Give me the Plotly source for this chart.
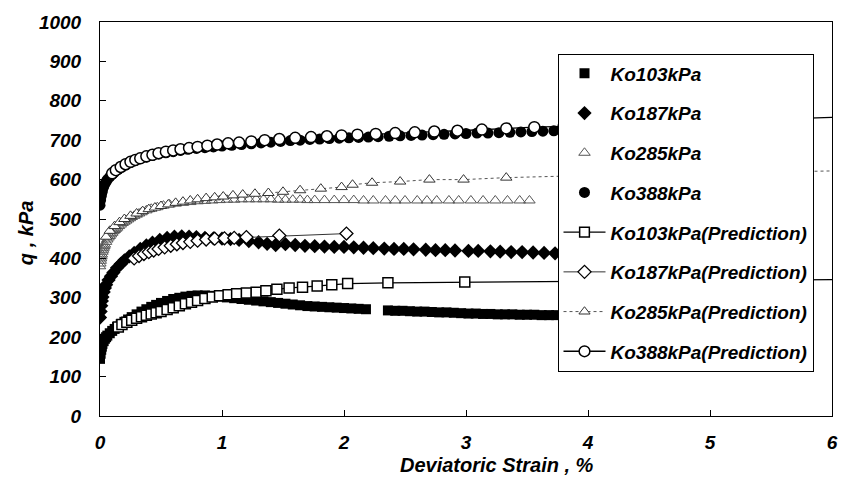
import plotly.graph_objects as go

# Measured stress-strain curves (deviatoric strain %, q in kPa)
k103_x = [0, 0.005, 0.01, 0.015, 0.02, 0.03, 0.04, 0.05, 0.06, 0.08, 0.1, 0.12, 0.14, 0.17, 0.2, 0.23, 0.26,
          0.3, 0.34, 0.38, 0.42, 0.46, 0.5, 0.55, 0.6, 0.65, 0.7, 0.75, 0.8, 0.86, 0.92, 0.98, 1.04, 1.1, 1.16,
          1.22, 1.28, 1.34, 1.4, 1.46, 1.52, 1.58, 1.64, 1.7, 1.76, 1.82, 1.88, 1.94, 2.0, 2.06, 2.12, 2.18,
          2.36, 2.42, 2.48, 2.54, 2.6, 2.66, 2.72, 2.78, 2.84, 2.9, 2.96, 3.02, 3.08, 3.14, 3.2, 3.26, 3.32,
          3.38, 3.44, 3.5, 3.56, 3.62, 3.68, 3.74, 3.9, 4.1, 4.3, 4.5, 4.7, 4.9]
k103_q = [145, 158, 168, 176, 183, 190, 196, 200, 204, 210, 216, 221, 226, 233, 239, 245, 251,
          258, 265, 271, 277, 282, 287, 292, 297, 300, 303, 305, 306, 306, 305, 303, 301, 299, 297,
          295, 293, 291, 289, 287, 285, 283, 281, 279, 278, 277, 276, 275, 274, 273, 272, 271,
          268, 267, 267, 266, 265, 265, 264, 263, 263, 262, 261, 260, 260, 259, 259, 258, 258,
          258, 257, 257, 257, 256, 256, 256, 255, 255, 254, 254, 253, 253]

k187_x = [0, 0.005, 0.01, 0.015, 0.02, 0.03, 0.04, 0.05, 0.07, 0.09, 0.11, 0.14, 0.17, 0.2, 0.24, 0.28, 0.33,
          0.38, 0.43, 0.49, 0.55, 0.61, 0.67, 0.73, 0.79, 0.86, 0.93, 1.0, 1.07, 1.14, 1.22, 1.3, 1.37, 1.44,
          1.52, 1.6, 1.68, 1.76, 1.84, 1.92, 2.0, 2.08, 2.16, 2.24, 2.33, 2.41, 2.49, 2.57, 2.67, 2.75, 2.83,
          2.91, 3.02, 3.1, 3.2, 3.28, 3.37, 3.46, 3.55, 3.64, 3.73, 3.9, 4.1, 4.3, 4.5, 4.7, 4.9]
k187_q = [250, 265, 280, 292, 302, 315, 325, 333, 345, 355, 364, 376, 386, 395, 405, 414, 424,
          433, 440, 447, 452, 455, 456, 455, 454, 452, 451, 450, 449, 447, 444, 441, 437, 434,
          436, 434, 432, 431, 430, 429, 429, 428, 427, 426, 425, 424, 424, 423, 422, 421, 421,
          420, 419, 419, 418, 417, 416, 416, 415, 414, 413, 412, 411, 410, 409, 408, 407]

k285_x = [0, 0.003, 0.006, 0.009, 0.012, 0.015, 0.02, 0.025, 0.03, 0.035, 0.04, 0.05, 0.06, 0.07, 0.08,
          0.09, 0.1, 0.11, 0.12, 0.13, 0.14, 0.155, 0.17, 0.185, 0.2, 0.215, 0.23, 0.245, 0.26, 0.28, 0.3,
          0.32, 0.34, 0.38, 0.42, 0.47, 0.52, 0.57, 0.62, 0.68, 0.74, 0.8, 0.86, 0.92, 0.98, 1.04, 1.1, 1.16,
          1.22, 1.28, 1.34, 1.4, 1.46, 1.52, 1.58, 1.64, 1.7, 1.76, 1.84, 1.92, 2.0, 2.08, 2.16, 2.24, 2.34,
          2.42, 2.5, 2.6, 2.68, 2.76, 2.86, 2.94, 3.04, 3.14, 3.24, 3.34, 3.44, 3.52]
k285_q = [380, 387, 394, 400, 405, 410, 417, 422, 427, 431, 435, 442, 448, 453, 457,
          461, 465, 469, 472, 475, 478, 482, 486, 490, 493, 496, 499, 502, 505, 508, 511,
          514, 517, 522, 526, 530, 534, 537, 539, 541, 543, 545, 546, 547, 548, 549, 549, 550,
          550, 550, 550, 550, 549, 549, 549, 549, 548, 548, 548, 548, 548, 548, 547, 547, 547,
          547, 547, 547, 547, 547, 547, 547, 547, 547, 547, 547, 547, 547]

k388_x = [0, 0.005, 0.01, 0.015, 0.02, 0.03, 0.04, 0.05, 0.06, 0.08, 0.1, 0.12, 0.15, 0.18, 0.21, 0.25, 0.29,
          0.33, 0.38, 0.43, 0.48, 0.54, 0.6, 0.66, 0.72, 0.79, 0.86, 0.93, 1.0, 1.08, 1.16, 1.24, 1.32, 1.4,
          1.48, 1.56, 1.64, 1.72, 1.8, 1.88, 1.96, 2.04, 2.12, 2.2, 2.28, 2.37, 2.46, 2.55, 2.64, 2.73, 2.82,
          2.91, 3.0, 3.09, 3.18, 3.27, 3.36, 3.45, 3.54, 3.63, 3.72, 3.9, 4.1, 4.3, 4.5, 4.7, 4.9]
k388_q = [535, 548, 558, 566, 572, 582, 589, 595, 600, 607, 613, 619, 626, 632, 637, 643, 648,
          653, 657, 661, 665, 668, 671, 674, 677, 679, 681, 683, 685, 687, 689, 691, 693, 695,
          697, 699, 700, 702, 703, 704, 705, 706, 707, 708, 709, 710, 711, 712, 713, 714, 715,
          716, 717, 718, 718, 719, 720, 721, 722, 723, 724, 725, 726, 727, 728, 729, 730]

# Model predictions
p103_x = [0.15, 0.18, 0.22, 0.26, 0.3, 0.34, 0.38, 0.42, 0.46, 0.5, 0.55, 0.6, 0.65,
          0.7, 0.75, 0.8, 0.86, 0.92, 0.98, 1.05, 1.12, 1.2, 1.28, 1.36, 1.45, 1.55, 1.66, 1.78, 1.9, 2.03,
          2.36, 2.99, 4.5, 6.0]
p103_q = [226, 232, 238, 243, 248, 252, 256, 259, 262, 265, 270, 275, 280,
          285, 289, 293, 298, 302, 305, 308, 310, 312, 314, 318, 322, 325, 327, 330, 333, 336,
          338, 340, 343, 346]

p187_x = [0.28, 0.32, 0.36, 0.4, 0.44, 0.48, 0.53, 0.58, 0.63,
          0.68, 0.74, 0.8, 0.87, 0.94, 1.02, 1.1, 1.2, 1.47, 2.02]
p187_q = [400, 406, 411, 416, 420, 424, 428, 432, 436,
          439, 442, 445, 448, 450, 451, 452, 454, 458, 463]

p285_x = [0.05, 0.08, 0.12, 0.16, 0.2, 0.25, 0.3, 0.35, 0.4, 0.45, 0.5, 0.56, 0.62, 0.68, 0.74,
          0.8, 0.87, 0.94, 1.01, 1.09, 1.17, 1.27, 1.38, 1.5, 1.64, 1.81, 1.98, 2.07, 2.23, 2.46, 2.7,
          2.98, 3.33, 4.2, 5.3, 6.0]
p285_q = [455, 470, 482, 492, 500, 508, 514, 520, 525, 529, 533, 537, 541, 544, 547,
          550, 553, 555, 557, 560, 562, 564, 566, 569, 573, 577, 581, 587, 592, 595, 600,
          600, 605, 612, 618, 622]

p388_x = [0.1, 0.13, 0.17, 0.21, 0.25, 0.29, 0.33, 0.38, 0.43, 0.48, 0.54, 0.6, 0.66,
          0.73, 0.8, 0.88, 0.96, 1.05, 1.14, 1.24, 1.35, 1.47, 1.6, 1.73, 1.86, 1.98, 2.11, 2.26, 2.42,
          2.58, 2.74, 2.93, 3.13, 3.33, 3.56, 3.8, 4.2, 4.7, 5.2, 5.7, 6.0]
p388_q = [616, 624, 632, 639, 645, 650, 654, 659, 663, 667, 671, 674, 677,
          680, 683, 686, 689, 692, 694, 697, 700, 703, 706, 708, 710, 712, 714, 716, 718,
          720, 722, 724, 727, 730, 733, 735, 740, 745, 750, 755, 758]

FONT = "Liberation Sans, Arial, sans-serif"


def sizes(xs, s):
    # the curves run on to the right frame, where no symbol is drawn
    return [s if x < 5.8 else 0 for x in xs]


fig = go.Figure()

# measured data: markers only
fig.add_trace(go.Scatter(x=k103_x, y=k103_q, mode="markers", name="Ko103kPa", legendgroup="a",
                         marker=dict(symbol="square", size=10, color="black", opacity=1)))
fig.add_trace(go.Scatter(x=k187_x, y=k187_q, mode="markers", name="Ko187kPa", legendgroup="b",
                         marker=dict(symbol="diamond", size=11, color="black", opacity=1)))
fig.add_trace(go.Scatter(x=k285_x, y=k285_q, mode="markers", name="Ko285kPa", legendgroup="c",
                         marker=dict(symbol="triangle-up-open", size=10, color="#555", opacity=1,
                                     line=dict(width=1))))
fig.add_trace(go.Scatter(x=k388_x, y=k388_q, mode="markers", name="Ko388kPa", legendgroup="d",
                         marker=dict(symbol="circle", size=11, color="black", opacity=1)))

# predictions: line + open markers
fig.add_trace(go.Scatter(x=p103_x, y=p103_q, mode="lines+markers", name="Ko103kPa(Prediction)",
                         legendgroup="e", line=dict(color="black", width=1.3),
                         marker=dict(symbol="square", size=sizes(p103_x, 10), color="white", opacity=1,
                                     line=dict(color="black", width=1.5))))
fig.add_trace(go.Scatter(x=p187_x, y=p187_q, mode="lines+markers", name="Ko187kPa(Prediction)",
                         legendgroup="f", line=dict(color="#333", width=1),
                         marker=dict(symbol="diamond", size=sizes(p187_x, 10), color="white", opacity=1,
                                     line=dict(color="black", width=1.3))))
fig.add_trace(go.Scatter(x=p285_x, y=p285_q, mode="lines+markers", name="Ko285kPa(Prediction)",
                         legendgroup="g", line=dict(color="#555", width=1, dash="dot"),
                         marker=dict(symbol="triangle-up", size=sizes(p285_x, 10), color="white", opacity=1,
                                     line=dict(color="#333", width=1))))
fig.add_trace(go.Scatter(x=p388_x, y=p388_q, mode="lines+markers", name="Ko388kPa(Prediction)",
                         legendgroup="h", line=dict(color="black", width=1.3),
                         marker=dict(symbol="circle", size=sizes(p388_x, 11), color="white", opacity=1,
                                     line=dict(color="black", width=1.5))))

tick_font = dict(family=FONT, size=19, color="black", weight="bold", style="italic")
title_font = dict(family=FONT, size=20, color="black", weight="bold", style="italic")

fig.update_layout(
    width=843, height=493,
    margin=dict(l=100, r=5, t=22, b=77),
    plot_bgcolor="white", paper_bgcolor="white",
    showlegend=True,
    legend=dict(
        x=0.625, y=0.92, xanchor="left", yanchor="top",
        bgcolor="white", bordercolor="black", borderwidth=1,
        font=dict(family=FONT, size=19, color="black", weight="bold", style="italic"),
        traceorder="grouped", tracegroupgap=12, itemwidth=42,
    ),
    xaxis=dict(
        range=[0, 6], tickvals=[0, 1, 2, 3, 4, 5, 6], ticks="inside", ticklen=6,
        tickcolor="black", showline=True, linecolor="black", linewidth=1, mirror=True,
        showgrid=False, zeroline=False, tickfont=tick_font, ticklabelstandoff=9,
        ticklabeloverflow="allow",
    ),
    yaxis=dict(
        range=[0, 1000], dtick=100, ticks="inside", ticklen=6,
        tickcolor="black", showline=True, linecolor="black", linewidth=1, mirror=True,
        showgrid=False, zeroline=False, tickfont=tick_font, ticklabelstandoff=14,
        ticklabeloverflow="allow",
    ),
    annotations=[
        dict(text="Deviatoric Strain , %", xref="paper", yref="paper", x=0.542, y=-0.125,
             xanchor="center", yanchor="middle", showarrow=False, font=title_font),
        dict(text="q , kPa", xref="paper", yref="paper", x=-0.102, y=0.465,
             xanchor="center", yanchor="middle", textangle=-90, showarrow=False, font=title_font),
    ],
)

fig.write_html("out.html")
